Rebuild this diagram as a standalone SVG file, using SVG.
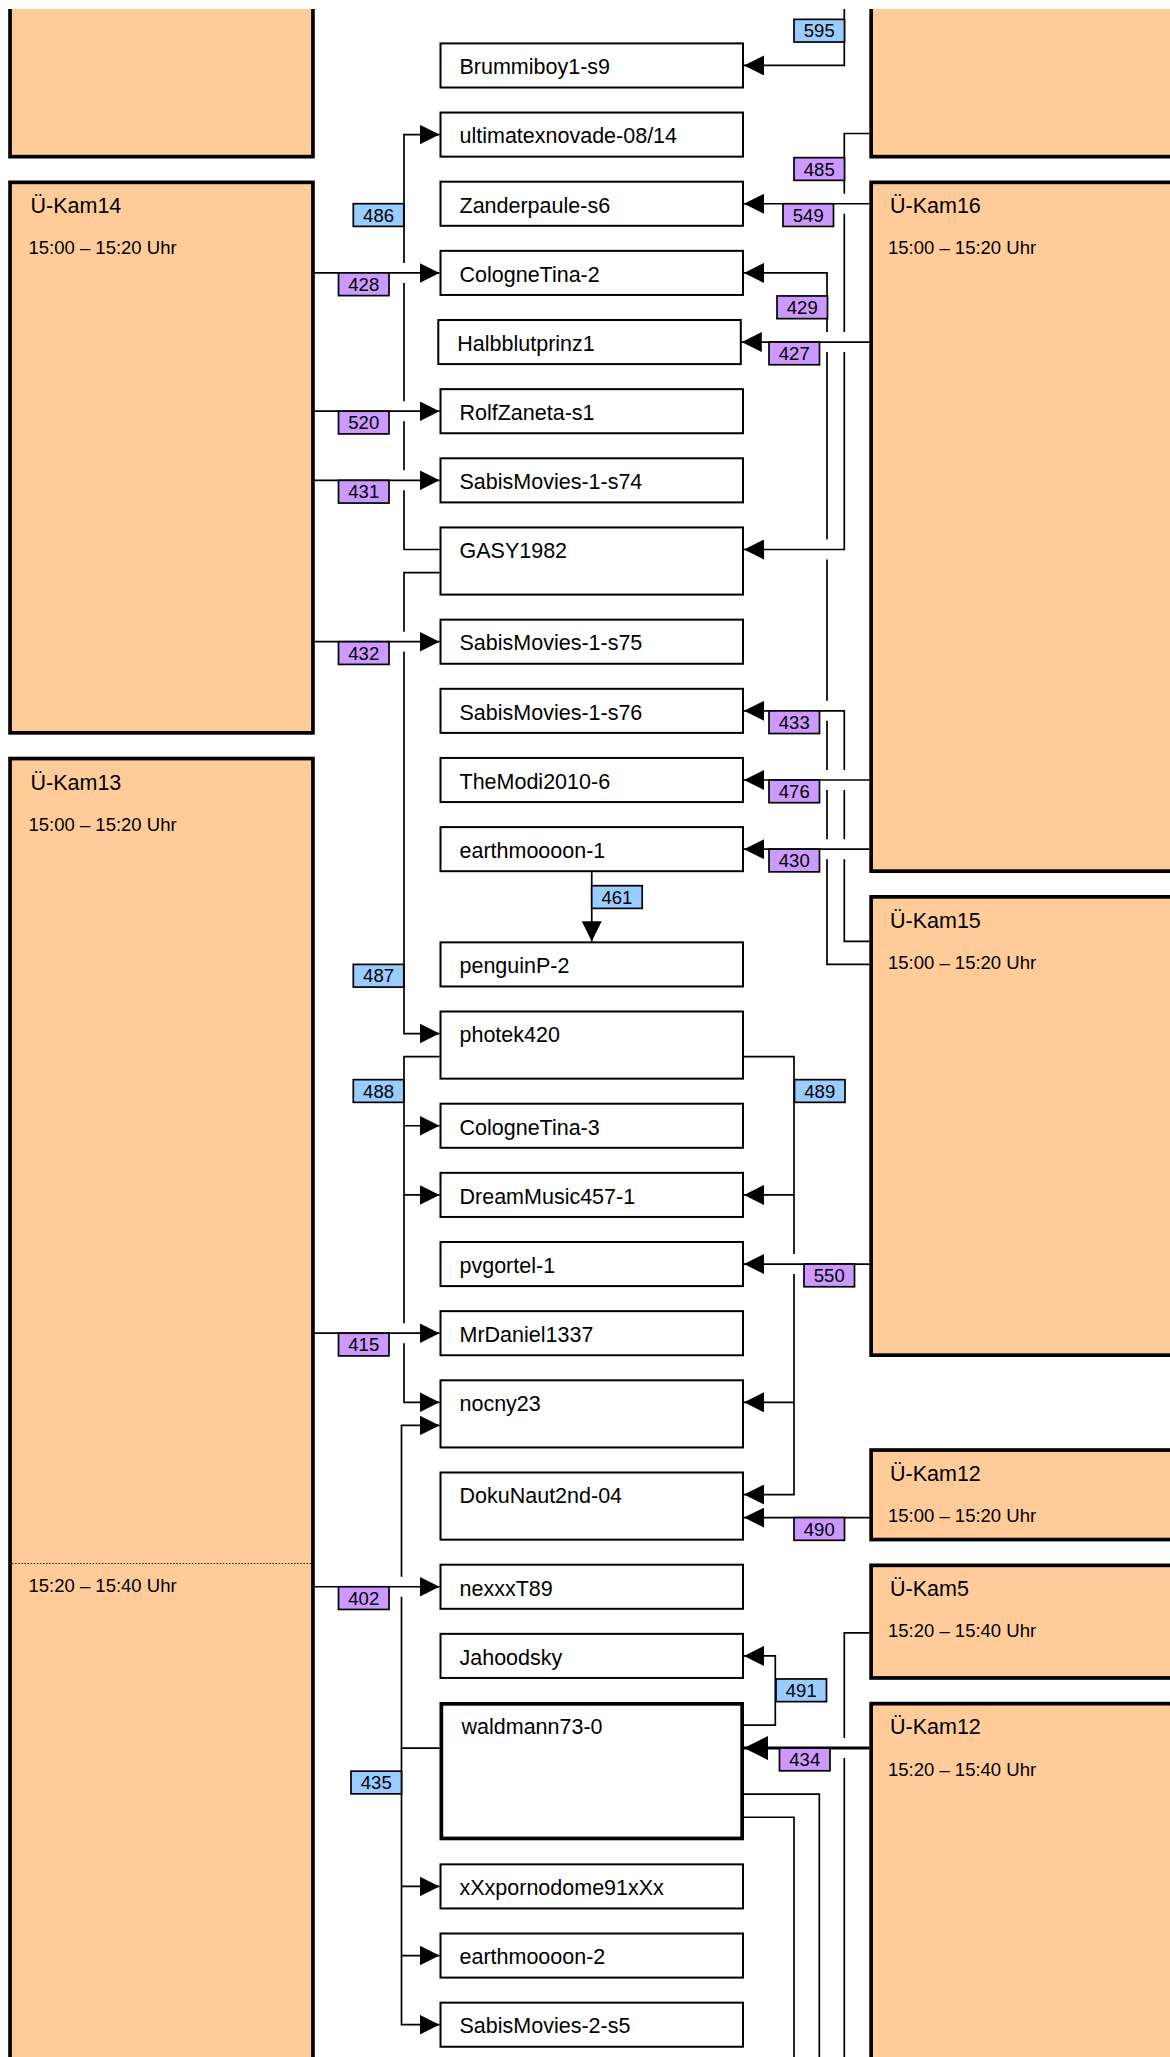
<svg xmlns="http://www.w3.org/2000/svg" width="1170" height="2057" viewBox="0 0 1170 2057">
<defs>
<style>
.cam{fill:#ffcc99;stroke:#000;stroke-width:3.7}
.node{fill:#fff;stroke:#000;stroke-width:2}
.node.em{stroke-width:3.7}
.t{font-family:"Liberation Sans",Arial,Helvetica,sans-serif;font-size:21.5px;fill:#000}
.tm{font-family:"Liberation Sans",Arial,Helvetica,sans-serif;font-size:18.5px;fill:#000}
.div{stroke:#222;stroke-width:1.2;stroke-dasharray:1.5,1.6;fill:none}
.ar{fill:none;stroke:#000;stroke-width:1.7;marker-end:url(#arr)}
.ln{fill:none;stroke:#000;stroke-width:1.7}
.big{fill:none;stroke:#000;stroke-width:3;marker-end:url(#arrBig)}
.lb{stroke:#000;stroke-width:1.7}
.lb.b{fill:#99ccff}
.lb.p{fill:#cc99ff}
.lt{font-family:"Liberation Sans",Arial,Helvetica,sans-serif;font-size:18.5px;fill:#000;text-anchor:middle}
</style>
<marker id="arr" markerUnits="userSpaceOnUse" markerWidth="20" markerHeight="20" refX="20" refY="10" orient="auto"><path d="M0,0 L20,10 L0,20 Z" fill="#000"/></marker>
<marker id="arrBig" markerUnits="userSpaceOnUse" markerWidth="24" markerHeight="24" refX="24" refY="12" orient="auto"><path d="M0,0 L24,12 L0,24 Z" fill="#000"/></marker>
<clipPath id="view"><rect x="0" y="9" width="1170" height="2048"/></clipPath>
</defs>
<rect x="0" y="0" width="1170" height="2057" fill="#fff"/>
<g clip-path="url(#view)">
<g id="cameras">
<g id="cam-top-left"><rect class="cam" x="10.05" y="-48.15" width="302.9" height="204.8"/></g>
<g id="cam-ukam14"><rect class="cam" x="10.05" y="182.35" width="302.9" height="550.5"/><text class="t" x="30.5" y="213.3">Ü-Kam14</text><text class="tm" x="28.5" y="254.3">15:00 – 15:20 Uhr</text></g>
<g id="cam-ukam13"><rect class="cam" x="10.05" y="758.55" width="302.9" height="1339.6"/><text class="t" x="30.5" y="789.5">Ü-Kam13</text><text class="tm" x="28.5" y="830.5">15:00 – 15:20 Uhr</text><line class="div" x1="12" y1="1563.5" x2="311" y2="1563.5"/><text class="tm" x="28.5" y="1591.7">15:20 – 15:40 Uhr</text></g>
<g id="cam-top-right"><rect class="cam" x="871.15" y="-48.15" width="377" height="204.8"/></g>
<g id="cam-ukam16"><rect class="cam" x="871.15" y="182.35" width="377" height="688.8"/><text class="t" x="890" y="213.3">Ü-Kam16</text><text class="tm" x="888" y="254.3">15:00 – 15:20 Uhr</text></g>
<g id="cam-ukam15"><rect class="cam" x="871.15" y="896.85" width="377" height="458.3"/><text class="t" x="890" y="927.5">Ü-Kam15</text><text class="tm" x="888" y="969">15:00 – 15:20 Uhr</text></g>
<g id="cam-ukam12a"><rect class="cam" x="871.15" y="1450.05" width="377" height="89.5"/><text class="t" x="890" y="1480.5">Ü-Kam12</text><text class="tm" x="888" y="1522">15:00 – 15:20 Uhr</text></g>
<g id="cam-ukam5"><rect class="cam" x="871.15" y="1565.35" width="377" height="112.6"/><text class="t" x="890" y="1595.5">Ü-Kam5</text><text class="tm" x="888" y="1637.3">15:20 – 15:40 Uhr</text></g>
<g id="cam-ukam12b"><rect class="cam" x="871.15" y="1703.65" width="377" height="394.5"/><text class="t" x="890" y="1734.3">Ü-Kam12</text><text class="tm" x="888" y="1775.5">15:20 – 15:40 Uhr</text></g>
</g>
<g id="nodes">
<g id="n-brummiboy1-s9"><rect class="node" x="440.5" y="43.4" width="302.5" height="44.1"/><text class="t" x="459.5" y="74.2">Brummiboy1-s9</text></g>
<g id="n-ultimatexnovade"><rect class="node" x="440.5" y="112.55" width="302.5" height="44.1"/><text class="t" x="459.5" y="143.35">ultimatexnovade-08/14</text></g>
<g id="n-zanderpaule-s6"><rect class="node" x="440.5" y="181.7" width="302.5" height="44.1"/><text class="t" x="459.5" y="212.5">Zanderpaule-s6</text></g>
<g id="n-colognetina-2"><rect class="node" x="440.5" y="250.85" width="302.5" height="44.1"/><text class="t" x="459.5" y="281.65">CologneTina-2</text></g>
<g id="n-halbblutprinz1"><rect class="node" x="438.3" y="320" width="302.5" height="44.1"/><text class="t" x="457.3" y="350.8">Halbblutprinz1</text></g>
<g id="n-rolfzaneta-s1"><rect class="node" x="440.5" y="389.15" width="302.5" height="44.1"/><text class="t" x="459.5" y="419.95">RolfZaneta-s1</text></g>
<g id="n-sabismovies-1-s74"><rect class="node" x="440.5" y="458.3" width="302.5" height="44.1"/><text class="t" x="459.5" y="489.1">SabisMovies-1-s74</text></g>
<g id="n-gasy1982"><rect class="node" x="440.5" y="527.45" width="302.5" height="67.15"/><text class="t" x="459.5" y="558.25">GASY1982</text></g>
<g id="n-sabismovies-1-s75"><rect class="node" x="440.5" y="619.65" width="302.5" height="44.1"/><text class="t" x="459.5" y="650.45">SabisMovies-1-s75</text></g>
<g id="n-sabismovies-1-s76"><rect class="node" x="440.5" y="688.8" width="302.5" height="44.1"/><text class="t" x="459.5" y="719.6">SabisMovies-1-s76</text></g>
<g id="n-themodi2010-6"><rect class="node" x="440.5" y="757.95" width="302.5" height="44.1"/><text class="t" x="459.5" y="788.75">TheModi2010-6</text></g>
<g id="n-earthmoooon-1"><rect class="node" x="440.5" y="827.1" width="302.5" height="44.1"/><text class="t" x="459.5" y="857.9">earthmoooon-1</text></g>
<g id="n-penguinp-2"><rect class="node" x="440.5" y="942.35" width="302.5" height="44.1"/><text class="t" x="459.5" y="973.15">penguinP-2</text></g>
<g id="n-photek420"><rect class="node" x="440.5" y="1011.5" width="302.5" height="67.15"/><text class="t" x="459.5" y="1042.3">photek420</text></g>
<g id="n-colognetina-3"><rect class="node" x="440.5" y="1103.7" width="302.5" height="44.1"/><text class="t" x="459.5" y="1134.5">CologneTina-3</text></g>
<g id="n-dreammusic457-1"><rect class="node" x="440.5" y="1172.85" width="302.5" height="44.1"/><text class="t" x="459.5" y="1203.65">DreamMusic457-1</text></g>
<g id="n-pvgortel-1"><rect class="node" x="440.5" y="1242" width="302.5" height="44.1"/><text class="t" x="459.5" y="1272.8">pvgortel-1</text></g>
<g id="n-mrdaniel1337"><rect class="node" x="440.5" y="1311.15" width="302.5" height="44.1"/><text class="t" x="459.5" y="1341.95">MrDaniel1337</text></g>
<g id="n-nocny23"><rect class="node" x="440.5" y="1380.3" width="302.5" height="67.15"/><text class="t" x="459.5" y="1411.1">nocny23</text></g>
<g id="n-dokunaut2nd-04"><rect class="node" x="440.5" y="1472.5" width="302.5" height="67.15"/><text class="t" x="459.5" y="1503.3">DokuNaut2nd-04</text></g>
<g id="n-nexxxt89"><rect class="node" x="440.5" y="1564.7" width="302.5" height="44.1"/><text class="t" x="459.5" y="1595.5">nexxxT89</text></g>
<g id="n-jahoodsky"><rect class="node" x="440.5" y="1633.85" width="302.5" height="44.1"/><text class="t" x="459.5" y="1664.65">Jahoodsky</text></g>
<g id="n-waldmann73-0"><rect class="node em" x="441.35" y="1703.85" width="300.8" height="134.6"/><text class="t" x="461.5" y="1733.5">waldmann73-0</text></g>
<g id="n-xxxpornodome91xxx"><rect class="node" x="440.5" y="1864.35" width="302.5" height="44.1"/><text class="t" x="459.5" y="1895.15">xXxpornodome91xXx</text></g>
<g id="n-earthmoooon-2"><rect class="node" x="440.5" y="1933.5" width="302.5" height="44.1"/><text class="t" x="459.5" y="1964.3">earthmoooon-2</text></g>
<g id="n-sabismovies-2-s5"><rect class="node" x="440.5" y="2002.65" width="302.5" height="44.1"/><text class="t" x="459.5" y="2033.45">SabisMovies-2-s5</text></g>
</g>
<g id="connectors">
<path class="ar" d="M314.8,272.9 H439.5"/>
<path class="ar" d="M314.8,411.2 H439.5"/>
<path class="ar" d="M314.8,480.35 H439.5"/>
<path class="ar" d="M314.8,641.7 H439.5"/>
<path class="ar" d="M314.8,1333.2 H439.5"/>
<path class="ar" d="M314.8,1586.75 H439.5"/>
<path class="ar" d="M439.5,549.5 H404 V490.35 M404,470.35 V421.2 M404,401.2 V282.9 M404,262.9 V134.6 H439.5"/>
<path class="ar" d="M439.5,572.55 H404 V631.7 M404,651.7 V1033.55 H439.5"/>
<path class="ar" d="M439.5,1056.6 H404 V1323.2 M404,1343.2 V1402.35 H439.5"/>
<path class="ar" d="M404,1125.75 H439.5"/>
<path class="ar" d="M404,1194.9 H439.5"/>
<path class="ar" d="M439.5,1748.1 H401.5 V1596.75 M401.5,1576.75 V1425.4 H439.5"/>
<path class="ar" d="M401.5,1748.1 V2024.7 H439.5"/>
<path class="ar" d="M401.5,1886.4 H439.5"/>
<path class="ar" d="M401.5,1955.55 H439.5"/>
<path class="ar" d="M844.3,0 V65.45 H744"/>
<path class="ar" d="M869.3,133.5 H844.3 V193.75 M844.3,213.75 V332.05 M844.3,352.05 V549.5 H744"/>
<path class="ar" d="M869.3,203.75 H744"/>
<path class="ar" d="M869.3,964.4 H827 V859.15 M827,839.15 V790 M827,770 V720.85 M827,700.85 V559.5 M827,539.5 V352.05 M827,332.05 V272.9 H744"/>
<path class="ar" d="M869.3,342.05 H741.8"/>
<path class="ar" d="M869.3,941.35 H844.3 V859.15 M844.3,839.15 V790 M844.3,770 V710.85 H744"/>
<path class="ar" d="M869.3,780 H744"/>
<path class="ar" d="M869.3,849.15 H744"/>
<path class="ar" d="M591.75,872.2 V941.35"/>
<path class="ar" d="M744,1056.6 H794 V1254.05 M794,1274.05 V1494.55 H744"/>
<path class="ar" d="M794,1194.9 H744"/>
<path class="ar" d="M794,1402.35 H744"/>
<path class="ar" d="M869.3,1264.05 H744"/>
<path class="ar" d="M869.3,1517.6 H744"/>
<path class="ar" d="M744,1725.05 H775.3 V1655.9 H744"/>
<path class="big" d="M869.3,1748.1 H744"/>
<path class="ln" d="M869.3,1632.85 H844.3 V1738.1 M844.3,1758.1 V2100"/>
<path class="ln" d="M744,1794.2 H819.3 V2100"/>
<path class="ln" d="M744,1817.25 H794 V2100"/>
</g>
<g id="edge-labels">
<g id="l486"><rect class="lb b" x="353.3" y="203.7" width="50.5" height="22.7"/><text class="lt" x="378.55" y="221.7">486</text></g>
<g id="l428"><rect class="lb p" x="338.5" y="272.9" width="50.5" height="22.7"/><text class="lt" x="363.75" y="290.9">428</text></g>
<g id="l520"><rect class="lb p" x="338.5" y="411.2" width="50.5" height="22.7"/><text class="lt" x="363.75" y="429.2">520</text></g>
<g id="l431"><rect class="lb p" x="338.5" y="480.35" width="50.5" height="22.7"/><text class="lt" x="363.75" y="498.35">431</text></g>
<g id="l432"><rect class="lb p" x="338.5" y="641.7" width="50.5" height="22.7"/><text class="lt" x="363.75" y="659.7">432</text></g>
<g id="l487"><rect class="lb b" x="353.3" y="964.4" width="50.5" height="22.7"/><text class="lt" x="378.55" y="982.4">487</text></g>
<g id="l488"><rect class="lb b" x="353.3" y="1079.65" width="50.5" height="22.7"/><text class="lt" x="378.55" y="1097.65">488</text></g>
<g id="l415"><rect class="lb p" x="338.5" y="1333.2" width="50.5" height="22.7"/><text class="lt" x="363.75" y="1351.2">415</text></g>
<g id="l402"><rect class="lb p" x="338.5" y="1586.75" width="50.5" height="22.7"/><text class="lt" x="363.75" y="1604.75">402</text></g>
<g id="l435"><rect class="lb b" x="351" y="1771.15" width="50.5" height="22.7"/><text class="lt" x="376.25" y="1789.15">435</text></g>
<g id="l595"><rect class="lb b" x="794" y="19.35" width="50.5" height="22.7"/><text class="lt" x="819.25" y="37.35">595</text></g>
<g id="l485"><rect class="lb p" x="794" y="157.65" width="50.5" height="22.7"/><text class="lt" x="819.25" y="175.65">485</text></g>
<g id="l549"><rect class="lb p" x="783" y="203.75" width="50.5" height="22.7"/><text class="lt" x="808.25" y="221.75">549</text></g>
<g id="l429"><rect class="lb p" x="777" y="295.95" width="50.5" height="22.7"/><text class="lt" x="802.25" y="313.95">429</text></g>
<g id="l427"><rect class="lb p" x="769" y="342.05" width="50.5" height="22.7"/><text class="lt" x="794.25" y="360.05">427</text></g>
<g id="l433"><rect class="lb p" x="769" y="710.85" width="50.5" height="22.7"/><text class="lt" x="794.25" y="728.85">433</text></g>
<g id="l476"><rect class="lb p" x="769" y="780" width="50.5" height="22.7"/><text class="lt" x="794.25" y="798">476</text></g>
<g id="l430"><rect class="lb p" x="769" y="849.15" width="50.5" height="22.7"/><text class="lt" x="794.25" y="867.15">430</text></g>
<g id="l461"><rect class="lb b" x="591.7" y="885.7" width="50.5" height="22.7"/><text class="lt" x="616.95" y="903.7">461</text></g>
<g id="l489"><rect class="lb b" x="794.5" y="1079.65" width="50.5" height="22.7"/><text class="lt" x="819.75" y="1097.65">489</text></g>
<g id="l550"><rect class="lb p" x="804" y="1264.05" width="50.5" height="22.7"/><text class="lt" x="829.25" y="1282.05">550</text></g>
<g id="l490"><rect class="lb p" x="794" y="1517.6" width="50.5" height="22.7"/><text class="lt" x="819.25" y="1535.6">490</text></g>
<g id="l491"><rect class="lb b" x="776" y="1678.95" width="50.5" height="22.7"/><text class="lt" x="801.25" y="1696.95">491</text></g>
<g id="l434"><rect class="lb p" x="779.5" y="1748.1" width="50.5" height="22.7"/><text class="lt" x="804.75" y="1766.1">434</text></g>
</g>
</g>
</svg>
